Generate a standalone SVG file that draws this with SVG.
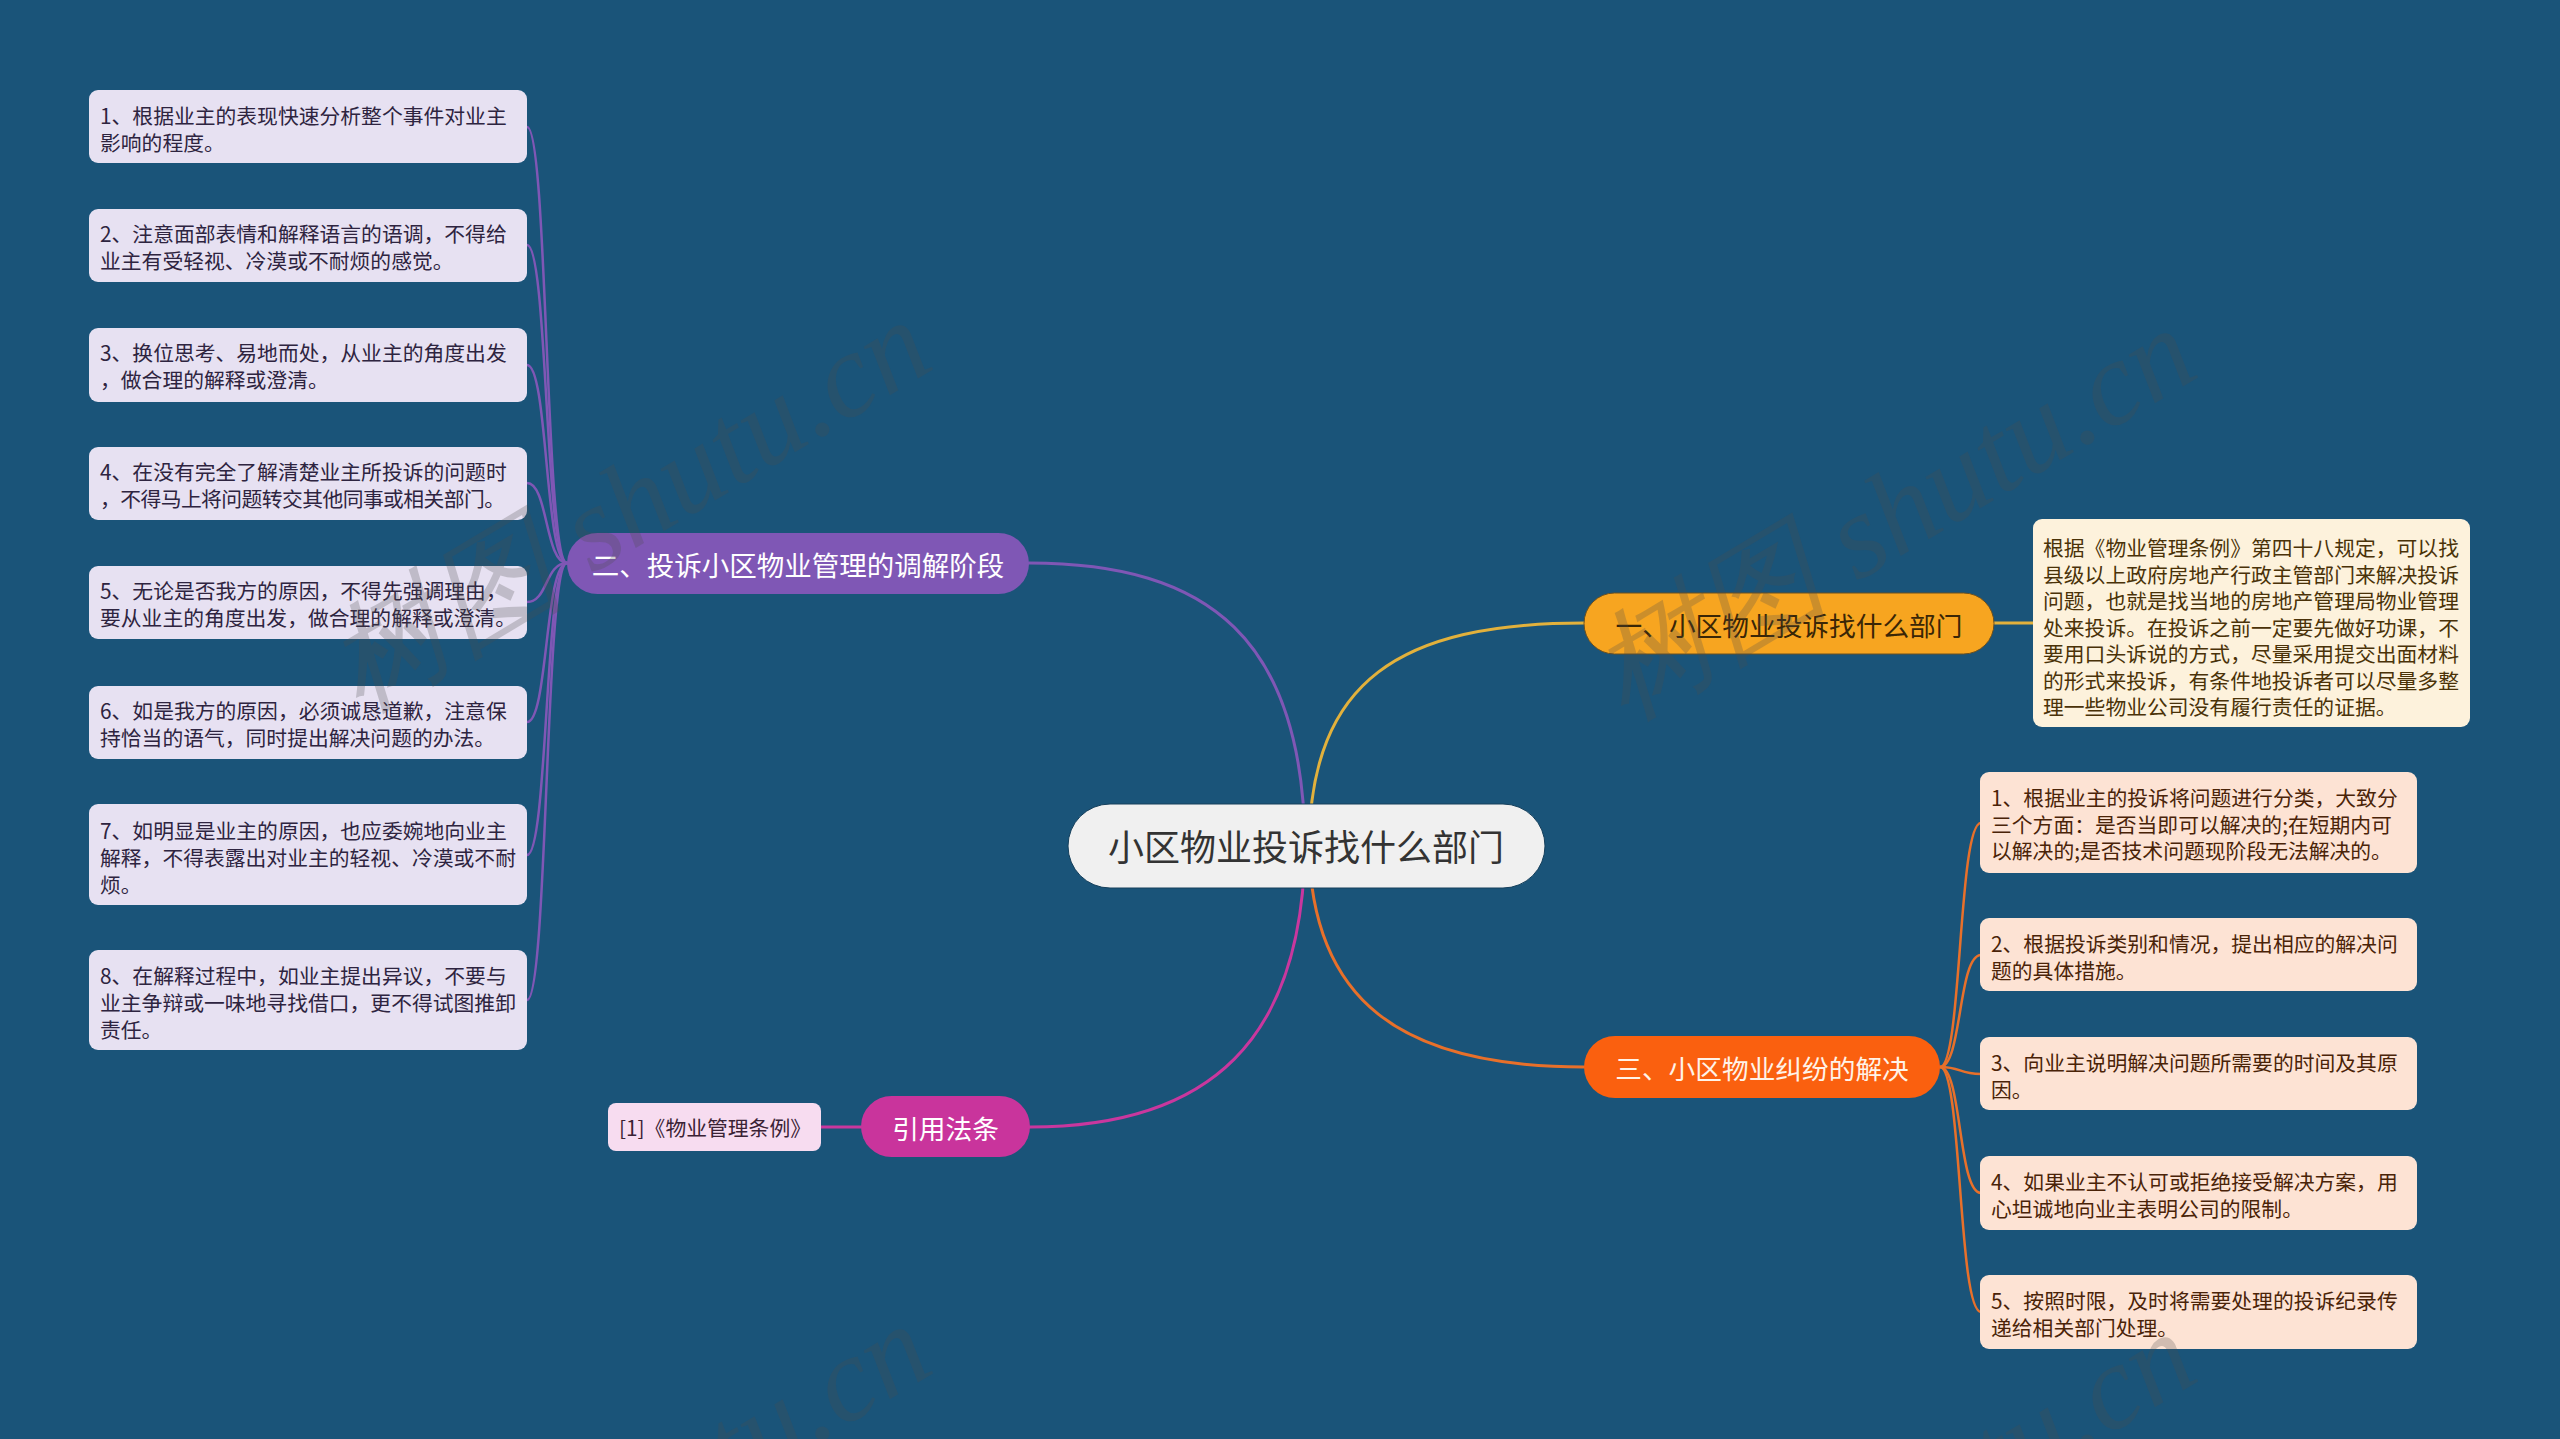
<svg xmlns="http://www.w3.org/2000/svg" width="2560" height="1439" viewBox="0 0 2560 1439">
<style>
text{font-family:"Noto Sans CJK SC","Noto Sans",sans-serif}
.bx{font-size:20.8px;dominant-baseline:central}
.lb{fill:#E7E1F2}
.lt{fill:#2E2440}
.rb{fill:#FDE3D4}
.rt{fill:#4A2308}
.db{fill:#FDF2DC}
.dt{fill:#4A3208}
.pill{font-size:26.7px;text-anchor:middle;dominant-baseline:central}
.big{font-size:27.5px;text-anchor:middle;dominant-baseline:central}
.ctr{font-size:36px;text-anchor:middle;dominant-baseline:central}
.wm{font-family:"Liberation Serif",serif;font-size:120px;fill:#4d4d4d;opacity:0.25;text-anchor:middle;font-style:italic}
.c{fill:none;stroke-linecap:round}
</style>
<rect width="2560" height="1439" fill="#1A5479"/>
<g id="connectors">
  <path class="c" stroke="#7F57B5" stroke-width="3" d="M1305,845 C1303,640 1210,563 1029,563"/>
  <path class="c" stroke="#E2B13C" stroke-width="3" d="M1309,845 C1311,680 1400,623 1584,623"/>
  <path class="c" stroke="#E8702A" stroke-width="3" d="M1309,845 C1311,1000 1400,1067 1584,1067"/>
  <path class="c" stroke="#C9379E" stroke-width="3" d="M1305,845 C1303,1040 1210,1127 1030,1127"/>
  <g stroke="#7F57B5" stroke-width="2.5" class="c">
    <path class="c" d="M567,563 C545,563 548,127 527,127"/>
    <path class="c" d="M567,563 C545,563 548,245 527,245"/>
    <path class="c" d="M567,563 C545,563 548,365 527,365"/>
    <path class="c" d="M567,563 C545,563 548,483 527,483"/>
    <path class="c" d="M567,563 C545,563 548,602 527,602"/>
    <path class="c" d="M567,563 C545,563 548,722 527,722"/>
    <path class="c" d="M567,563 C545,563 548,855 527,855"/>
    <path class="c" d="M567,563 C545,563 548,1000 527,1000"/>
  </g>
  <g stroke="#E8702A" stroke-width="2.5" class="c">
    <path class="c" d="M1940,1067 C1962,1067 1958,823 1981,823"/>
    <path class="c" d="M1940,1067 C1962,1067 1958,955 1981,955"/>
    <path class="c" d="M1940,1067 C1962,1067 1958,1074 1981,1074"/>
    <path class="c" d="M1940,1067 C1962,1067 1958,1193 1981,1193"/>
    <path class="c" d="M1940,1067 C1962,1067 1958,1312 1981,1312"/>
  </g>
  <path class="c" stroke="#E2B13C" stroke-width="3" d="M1994,623 L2033,623"/>
  <path class="c" stroke="#C9379E" stroke-width="3" d="M821,1127 L861,1127"/>
</g>

<g id="center">
  <rect x="1068" y="804" width="477" height="84" rx="42" fill="#F0F0F0" stroke="#16405c" stroke-width="1"/>
  <text class="ctr" x="1306" y="845" fill="#333333">小区物业投诉找什么部门</text>
</g>

<g id="branch2">
  <rect x="567" y="533" width="462" height="61" rx="30.5" fill="#7F57B5"/>
  <text class="big" x="798" y="564" fill="#FFFFFF">二、投诉小区物业管理的调解阶段</text>
</g>

<g id="branch1">
  <rect x="1584" y="593" width="410" height="61" rx="30.5" fill="#F7A520" stroke="#6b5020" stroke-width="1"/>
  <text class="pill" x="1789" y="624" fill="#3A2606">一、小区物业投诉找什么部门</text>
</g>

<g id="branch3">
  <rect x="1584" y="1036" width="356" height="62" rx="31" fill="#FA600F"/>
  <text class="pill" x="1762" y="1067" fill="#FFF3E8">三、小区物业纠纷的解决</text>
</g>

<g id="branch4">
  <rect x="861" y="1096" width="169" height="61" rx="30.5" fill="#C9349C"/>
  <text class="pill" x="945.5" y="1127" fill="#FFFFFF">引用法条</text>
</g>

<g id="ref1">
  <rect x="608" y="1103" width="213" height="48" rx="8" fill="#F7DCF0"/>
  <text class="bx" x="619" y="1127" fill="#3A2234">[1]《物业管理条例》</text>
</g>

<g id="left1"><rect class="lb" x="89" y="90" width="438" height="73" rx="9"/>
  <text class="bx lt" x="100"><tspan x="100" y="115">1、根据业主的表现快速分析整个事件对业主</tspan><tspan x="100" y="142">影响的程度。</tspan></text></g>
<g id="left2"><rect class="lb" x="89" y="209" width="438" height="73" rx="9"/>
  <text class="bx lt" x="100"><tspan x="100" y="233">2、注意面部表情和解释语言的语调，不得给</tspan><tspan x="100" y="260">业主有受轻视、冷漠或不耐烦的感觉。</tspan></text></g>
<g id="left3"><rect class="lb" x="89" y="328" width="438" height="74" rx="9"/>
  <text class="bx lt" x="100"><tspan x="100" y="352">3、换位思考、易地而处，从业主的角度出发</tspan><tspan x="100" y="379">，做合理的解释或澄清。</tspan></text></g>
<g id="left4"><rect class="lb" x="89" y="447" width="438" height="73" rx="9"/>
  <text class="bx lt" x="100" y="471">4、在没有完全了解清楚业主所投诉的问题时</text>
  <text class="bx lt" x="100" y="498" textLength="405" lengthAdjust="spacing">，不得马上将问题转交其他同事或相关部门。</text></g>
<g id="left5"><rect class="lb" x="89" y="566" width="438" height="73" rx="9"/>
  <text class="bx lt" x="100"><tspan x="100" y="590">5、无论是否我方的原因，不得先强调理由，</tspan><tspan x="100" y="617">要从业主的角度出发，做合理的解释或澄清。</tspan></text></g>
<g id="left6"><rect class="lb" x="89" y="686" width="438" height="73" rx="9"/>
  <text class="bx lt" x="100"><tspan x="100" y="710">6、如是我方的原因，必须诚恳道歉，注意保</tspan><tspan x="100" y="737">持恰当的语气，同时提出解决问题的办法。</tspan></text></g>
<g id="left7"><rect class="lb" x="89" y="804" width="438" height="101" rx="9"/>
  <text class="bx lt" x="100"><tspan x="100" y="830">7、如明显是业主的原因，也应委婉地向业主</tspan><tspan x="100" y="857">解释，不得表露出对业主的轻视、冷漠或不耐</tspan><tspan x="100" y="884">烦。</tspan></text></g>
<g id="left8"><rect class="lb" x="89" y="950" width="438" height="100" rx="9"/>
  <text class="bx lt" x="100"><tspan x="100" y="975">8、在解释过程中，如业主提出异议，不要与</tspan><tspan x="100" y="1002">业主争辩或一味地寻找借口，更不得试图推卸</tspan><tspan x="100" y="1029">责任。</tspan></text></g>

<g id="detail1"><rect class="db" x="2033" y="519" width="437" height="208" rx="9"/>
  <text class="bx dt"><tspan x="2043" y="547">根据《物业管理条例》第四十八规定，可以找</tspan><tspan x="2043" y="573.5">县级以上政府房地产行政主管部门来解决投诉</tspan><tspan x="2043" y="600">问题，也就是找当地的房地产管理局物业管理</tspan><tspan x="2043" y="626.5">处来投诉。在投诉之前一定要先做好功课，不</tspan><tspan x="2043" y="653">要用口头诉说的方式，尽量采用提交出面材料</tspan><tspan x="2043" y="679.5">的形式来投诉，有条件地投诉者可以尽量多整</tspan><tspan x="2043" y="706">理一些物业公司没有履行责任的证据。</tspan></text></g>

<g id="right1"><rect class="rb" x="1980" y="772" width="437" height="101" rx="9"/>
  <text class="bx rt"><tspan x="1991" y="797">1、根据业主的投诉将问题进行分类，大致分</tspan><tspan x="1991" y="823.5">三个方面：是否当即可以解决的;在短期内可</tspan><tspan x="1991" y="850">以解决的;是否技术问题现阶段无法解决的。</tspan></text></g>
<g id="right2"><rect class="rb" x="1980" y="918" width="437" height="73" rx="9"/>
  <text class="bx rt"><tspan x="1991" y="943">2、根据投诉类别和情况，提出相应的解决问</tspan><tspan x="1991" y="969.5">题的具体措施。</tspan></text></g>
<g id="right3"><rect class="rb" x="1980" y="1037" width="437" height="73" rx="9"/>
  <text class="bx rt"><tspan x="1991" y="1062">3、向业主说明解决问题所需要的时间及其原</tspan><tspan x="1991" y="1088.5">因。</tspan></text></g>
<g id="right4"><rect class="rb" x="1980" y="1156" width="437" height="74" rx="9"/>
  <text class="bx rt"><tspan x="1991" y="1181">4、如果业主不认可或拒绝接受解决方案，用</tspan><tspan x="1991" y="1207.5">心坦诚地向业主表明公司的限制。</tspan></text></g>
<g id="right5"><rect class="rb" x="1980" y="1275" width="437" height="74" rx="9"/>
  <text class="bx rt"><tspan x="1991" y="1300">5、按照时限，及时将需要处理的投诉纪录传</tspan><tspan x="1991" y="1326.5">递给相关部门处理。</tspan></text></g>

<g id="watermark">
  <text class="wm" transform="translate(649,540) rotate(-31)">树图 shutu.cn</text>
  <text class="wm" transform="translate(1914,548) rotate(-31)">树图 shutu.cn</text>
  <text class="wm" transform="translate(649,1544) rotate(-31)">树图 shutu.cn</text>
  <text class="wm" transform="translate(1914,1552) rotate(-31)">树图 shutu.cn</text>
</g>
</svg>
